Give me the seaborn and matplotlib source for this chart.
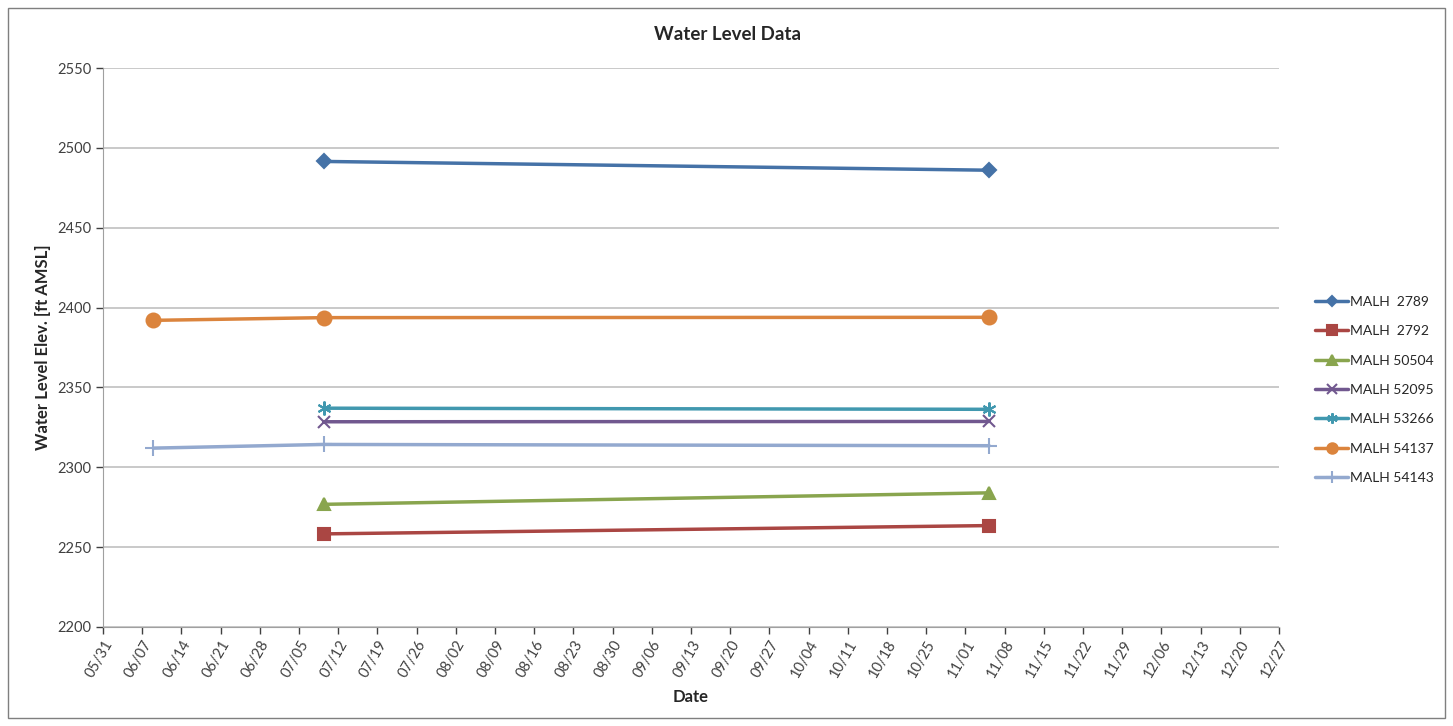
import pandas as pd
import numpy as np
import matplotlib.pyplot as plt
import matplotlib.dates as mdates
import seaborn as sns
from matplotlib.patches import Rectangle

# survey dates
d_jun = "2013-06-09 00:00"
d_jul = "2013-07-09 10:00"
d_nov = "2013-11-05 06:00"

series_names = ["MALH  2789", "MALH  2792", "MALH 50504", "MALH 52095",
                "MALH 53266", "MALH 54137", "MALH 54143"]

dates_2789 = [d_jul, d_nov]
vals_2789 = [2491.5, 2486.0]
dates_2792 = [d_jul, d_nov]
vals_2792 = [2258.3, 2263.5]
dates_50504 = [d_jul, d_nov]
vals_50504 = [2276.8, 2284.0]
dates_52095 = [d_jul, d_nov]
vals_52095 = [2328.5, 2328.7]
dates_53266 = [d_jul, d_nov]
vals_53266 = [2337.0, 2336.3]
dates_54137 = [d_jun, d_jul, d_nov]
vals_54137 = [2392.0, 2393.7, 2393.9]
dates_54143 = [d_jun, d_jul, d_nov]
vals_54143 = [2312.0, 2314.3, 2313.5]

all_dates = [dates_2789, dates_2792, dates_50504, dates_52095, dates_53266, dates_54137, dates_54143]
all_vals = [vals_2789, vals_2792, vals_50504, vals_52095, vals_53266, vals_54137, vals_54143]

colors = ["#4572A7", "#AA4643", "#89A54E", "#71588F", "#4198AF", "#DB843D", "#93A9CF"]
markers = ["D", "s", "^", "x", (6, 2, 0), "o", "+"]
msizes = [7, 9, 9, 9, 10, 10, 11]

sns.set_style("white")
plt.rcParams["font.family"] = ["Lato", "DejaVu Sans"]

fig = plt.figure(figsize=(14.53, 7.26), dpi=100)
ax = fig.add_axes([103 / 1453, 1 - 627 / 726, 1176 / 1453, 559 / 726])

for name, ds, vs, c, m, ms in zip(series_names, all_dates, all_vals, colors, markers, msizes):
    df = pd.DataFrame({"date": pd.to_datetime(ds, format="%Y-%m-%d %H:%M"), "val": vs})
    sns.lineplot(data=df, x="date", y="val", ax=ax, color=c, marker=m, markersize=ms,
                 linewidth=2.5, markeredgecolor=c, markeredgewidth=1.5, label=name)

start = pd.Timestamp("2013-05-31")
end = pd.Timestamp("2013-12-27")
ax.set_xlim(start, end)
ax.set_xticks(pd.date_range(start, end, freq="7D"))
ax.xaxis.set_major_formatter(mdates.DateFormatter("%m/%d"))
plt.setp(ax.get_xticklabels(), rotation=60, ha="right", rotation_mode="anchor")

ax.set_ylim(2200, 2550)
ax.set_yticks(np.arange(2200, 2551, 50))
ax.yaxis.grid(True, color="#c0c0c0", linewidth=1.2)
ax.xaxis.grid(False)
ax.tick_params(axis="both", which="major", labelsize=10.5, colors="#404040",
               length=5, direction="out", bottom=True, left=True, width=1)
ax.tick_params(axis="x", pad=3)
for s in ["top", "right"]:
    ax.spines[s].set_visible(False)
for s in ["left", "bottom"]:
    ax.spines[s].set_color("#a0a0a0")

ax.set_xlabel("Date", fontsize=12, fontweight="bold", labelpad=6)
ax.set_ylabel("Water Level Elev. [ft AMSL]", fontsize=12, fontweight="bold", labelpad=4)
fig.text(728 / 1453, 1 - 35 / 726, "Water Level Data", fontsize=13.5, fontweight="bold",
         ha="center", va="center")

ax.legend(loc="center left", bbox_to_anchor=(1.02, 0.424), frameon=False, fontsize=10,
          labelspacing=1.25, handlelength=2.4, handletextpad=0.15, markerscale=0.75)

fig.patches.append(Rectangle((8 / 1453, 8 / 726), 1 - 16 / 1453, 1 - 16 / 726,
                             transform=fig.transFigure, fill=False, edgecolor="#7f7f7f",
                             linewidth=1))

fig.savefig("out.png", dpi=100)
